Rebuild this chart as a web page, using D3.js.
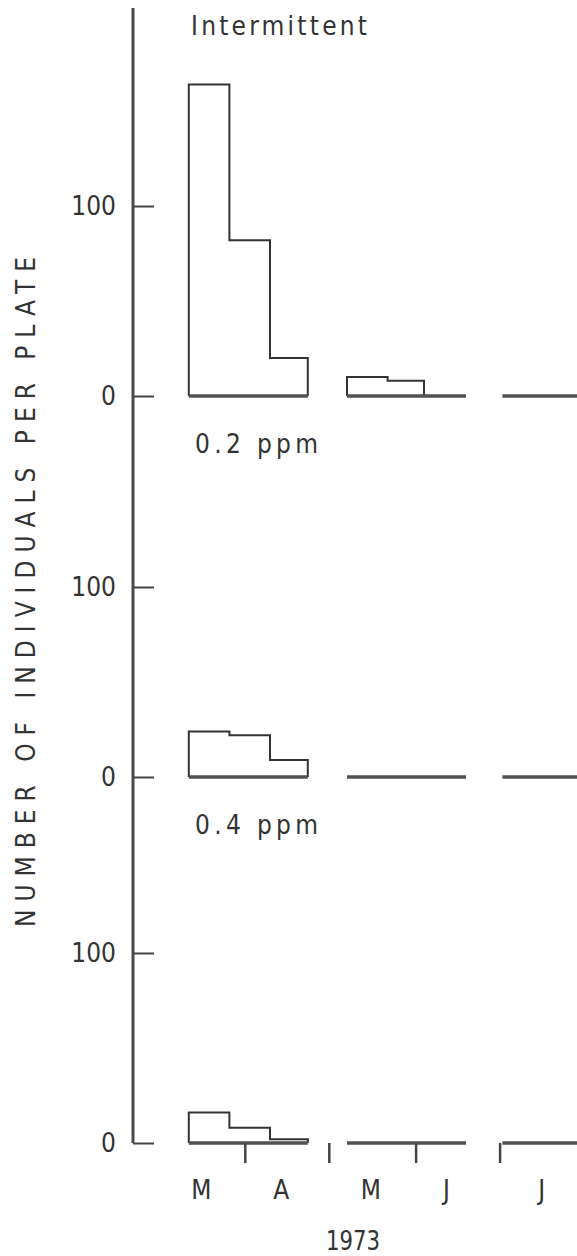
<!DOCTYPE html>
<html>
<head>
<meta charset="utf-8">
<script src="https://cdn.jsdelivr.net/npm/d3@7"></script>
<style>
  html, body { margin: 0; padding: 0; background: #fff; }
  svg text { font-family: "DejaVu Sans Condensed", "DejaVu Sans", sans-serif; fill: #333; }
</style>
</head>
<body>
<svg id="chart" width="577" height="1256"></svg>
<script>
// ---- Data (days counted from 1 March 1973) ----
const monthLabels = ["M", "A", "M", "J", "J"];
const monthLabelDay = [15.5, 44, 76, 103, 137];
const monthBoundaries = [31, 61, 92, 122];
const binStart = [11, 25.5, 40, 67.5, 82, 95, 123];
const binEnd   = [25.5, 40, 53.5, 82, 95, 110, 152];
const binSegment = [0, 0, 0, 1, 1, 1, 2];
const panelLabels = ["0.2 ppm", "0.4 ppm", ""];
const panel1Values = [164, 82, 20, 10, 8, 0, 0];
const panel2Values = [24, 22, 9, 0, 0, 0, 0];
const panel3Values = [16, 8, 2, 0, 0, 0, 0];
const yTicks = [0, 100];

const panels = [panel1Values, panel2Values, panel3Values];
const panelZeroY = [396, 777, 1143];

const svg = d3.select("#chart");
const axisX = 133;
const FONT = '"DejaVu Sans Condensed", "DejaVu Sans", sans-serif';

const x = d3.scaleLinear().domain([0, 100]).range([158, 158 + 280]);
const y = d3.scaleLinear().domain([0, 100]).range([0, -190]);

svg.append("line")
  .attr("x1", axisX).attr("x2", axisX)
  .attr("y1", 8).attr("y2", panelZeroY[2])
  .attr("stroke", "#4a4a4a").attr("stroke-width", 3);

panels.forEach((vals, pi) => {
  const g = svg.append("g").attr("transform", `translate(0,${panelZeroY[pi]})`);

  const ax = g.append("g").attr("transform", `translate(${axisX},0)`)
    .call(d3.axisLeft(y).tickValues(yTicks).tickSizeInner(-21).tickSizeOuter(0).tickPadding(17).tickFormat(d3.format("d")));
  ax.select(".domain").remove();
  ax.selectAll(".tick line").attr("stroke", "#444").attr("stroke-width", 2);
  ax.selectAll(".tick text").attr("font-size", 26).attr("fill", "#333")
    .style("font-family", FONT);

  const segIds = Array.from(new Set(binSegment));
  segIds.forEach(s => {
    const idx = binSegment.map((b, i) => b === s ? i : -1).filter(i => i >= 0);
    const x0 = x(binStart[idx[0]]);
    const x1 = x(binEnd[idx[idx.length - 1]]);
    const pts = [];
    let lastNonZero = -1;
    idx.forEach((i, k) => { if (vals[i] > 0) lastNonZero = k; });
    if (lastNonZero >= 0) {
      pts.push([x0, 0]);
      for (let k = 0; k <= lastNonZero; k++) {
        const i = idx[k];
        pts.push([x(binStart[i]), y(vals[i])]);
        pts.push([x(binEnd[i]), y(vals[i])]);
      }
      pts.push([x(binEnd[idx[lastNonZero]]), 0]);
      g.append("path")
        .attr("d", d3.line()(pts))
        .attr("fill", "none").attr("stroke", "#333").attr("stroke-width", 2)
        .attr("stroke-linejoin", "miter");
    }
    g.append("line")
      .attr("x1", x0).attr("x2", x1).attr("y1", 0).attr("y2", 0)
      .attr("stroke", "#505050").attr("stroke-width", 3.5);
  });

  if (panelLabels[pi]) {
    g.append("text").attr("x", 195).attr("y", 57)
      .attr("font-size", 26).attr("textLength", 123).attr("lengthAdjust", "spacing")
      .text(panelLabels[pi]);
  }
});

const bx = svg.append("g").attr("transform", `translate(0,${panelZeroY[2]})`)
  .call(d3.axisBottom(x).tickValues(monthBoundaries).tickSizeInner(20).tickSizeOuter(0).tickFormat(""));
bx.select(".domain").remove();
bx.selectAll(".tick line").attr("stroke", "#444").attr("stroke-width", 2.5);

svg.append("g").selectAll("text").data(monthLabels).join("text")
  .attr("x", (d, i) => x(monthLabelDay[i]))
  .attr("y", 1199)
  .attr("text-anchor", "middle")
  .attr("font-size", 26)
  .text(d => d);

svg.append("text").attr("x", 353).attr("y", 1250)
  .attr("text-anchor", "middle").attr("font-size", 26)
  .attr("textLength", 54).attr("lengthAdjust", "spacingAndGlyphs")
  .text("1973");

svg.append("text").attr("x", 191).attr("y", 35)
  .attr("font-size", 26).attr("textLength", 176).attr("lengthAdjust", "spacing")
  .text("Intermittent");

svg.append("text")
  .attr("transform", "translate(35,592) rotate(-90)")
  .attr("text-anchor", "middle")
  .attr("font-size", 26)
  .attr("textLength", 670).attr("lengthAdjust", "spacing")
  .text("NUMBER OF INDIVIDUALS PER PLATE");
</script>
</body>
</html>
